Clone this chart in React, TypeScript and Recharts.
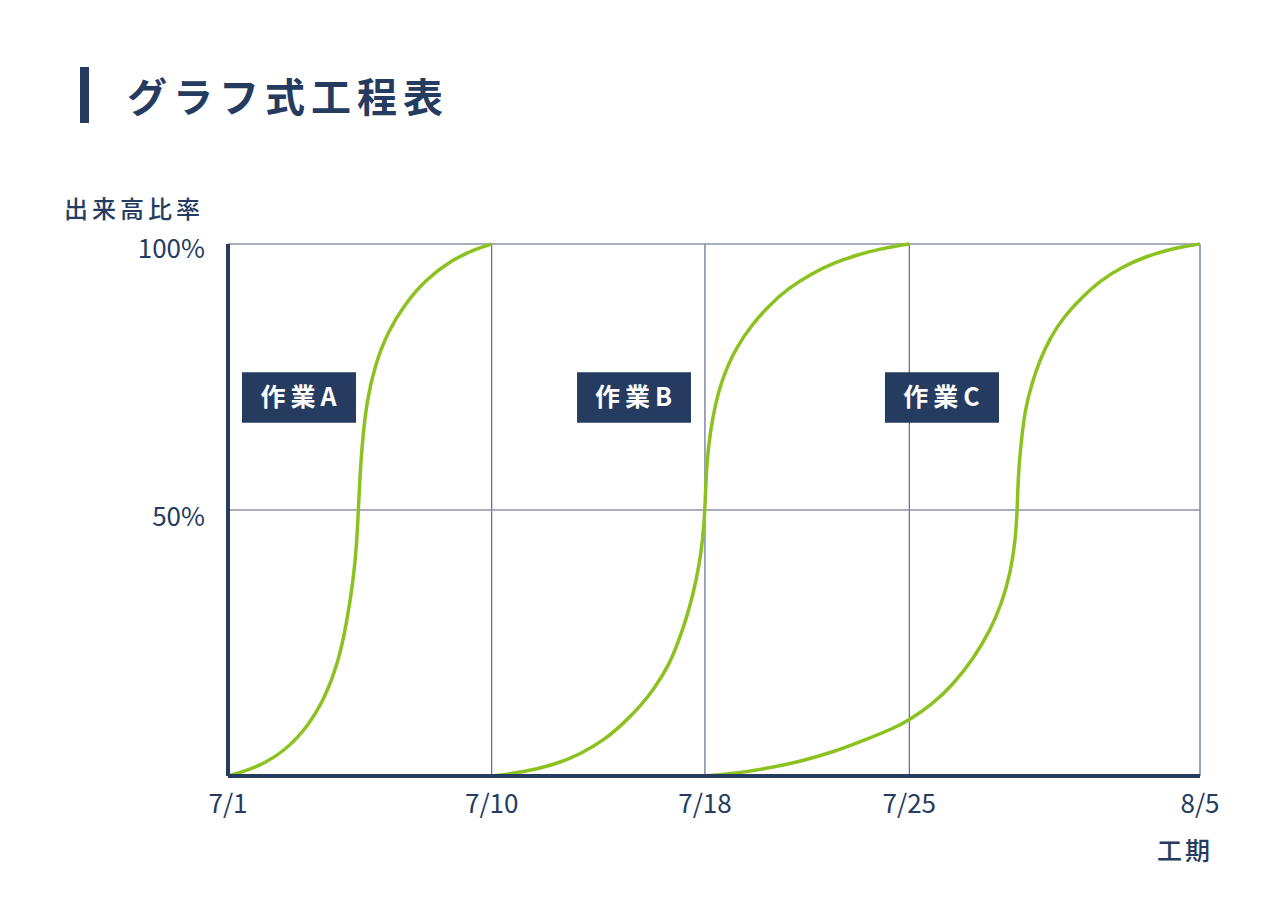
// @ts-nocheck
import { LineChart, Line, XAxis, YAxis, CartesianGrid, ReferenceArea } from 'recharts'

// timeline position (% of the construction period width) and progress (%)
const xTickPos = [0, 27.13, 49.07, 70.09, 100]
const xTickLabels = ['7/1', '7/10', '7/18', '7/25', '8/5']
const yTicks = [0, 50, 100]
const yTickLabels = ['', '50%', '100%']

const workAPos = [0, 3.12, 5.86, 8.26, 9.98, 11.35, 12.21, 12.89, 13.24, 13.41, 13.58, 13.82, 14.27, 15.12, 16.49, 18.21, 20.27, 23.01, 25.41, 27.13]
const workAPct = [0, 1.7, 4.7, 9.4, 14.7, 21.4, 28.7, 36.8, 43.4, 50, 56.5, 62.8, 70.4, 77.3, 83.7, 88.7, 93.2, 97, 99, 100]

const workBPos = [27.13, 30.18, 33.61, 36.35, 38.75, 40.81, 42.52, 43.9, 45.27, 46.3, 47.15, 47.84, 48.45, 48.85, 49.07, 49.17, 49.41, 49.86, 50.54, 51.41, 52.44, 53.81, 55.53, 57.58, 59.98, 62.38, 64.78, 67.18, 69.24, 70.09]
const workBPct = [0, 0.65, 2.1, 4.2, 6.8, 10.1, 13.3, 16.6, 20.5, 25, 29.6, 34.1, 39.3, 44.5, 50, 55.8, 61.9, 67.4, 72.9, 77.2, 80.9, 84.6, 88.2, 91.6, 94.4, 96.5, 98, 99.1, 99.8, 100]

const workCPos = [49.07, 52.0, 55.4, 58.8, 62.3, 65.7, 68.4, 70.09, 72.6, 74.6, 76.7, 78.4, 79.6, 80.5, 81.0, 81.2, 81.3, 81.6, 82.0, 82.7, 83.5, 84.6, 85.9, 87.7, 89.7, 92.1, 94.5, 96.9, 98.6, 100]
const workCPct = [0, 0.45, 1.4, 2.7, 4.5, 6.9, 8.9, 10.5, 13.7, 17.2, 22.1, 27.3, 32.4, 38.2, 44.1, 50, 56.7, 62.8, 68.9, 73.8, 78.1, 82.4, 86.1, 89.7, 93.1, 95.8, 97.7, 99, 99.6, 100]

const workNames = ['作業A', '作業B', '作業C']

const toRows = (xs: number[], ys: number[]) => xs.map((x, i) => ({ x, y: ys[i] }))
const series = [toRows(workAPos, workAPct), toRows(workBPos, workBPct), toRows(workCPos, workCPct)]

// label boxes, in chart units
const boxes = [
  { x1: 1.44, x2: 13.17 },
  { x1: 35.91, x2: 47.63 },
  { x1: 67.59, x2: 79.32 },
]

const NAVY = '#253b60'
const GREEN = '#8cc21f'
const FONT = '"Noto Sans CJK JP", "Noto Sans", sans-serif'

function XTick({ x, y, payload }) {
  const i = xTickPos.indexOf(payload.value)
  return (
    <text x={x} y={y + 28} dy="0.35em" textAnchor="middle" fill={NAVY} fontSize={26} fontFamily={FONT}>
      {xTickLabels[i]}
    </text>
  )
}

function YTick({ x, y, payload }) {
  const i = yTicks.indexOf(payload.value)
  if (!yTickLabels[i]) return null
  return (
    <text x={x - 23} y={y + (payload.value === 50 ? 7 : 5)} dy="0.35em" textAnchor="end" fill={NAVY} fontSize={26} fontFamily={FONT}>
      {yTickLabels[i]}
    </text>
  )
}

function BoxLabel(name: string) {
  return (props) => {
    const vb = props.viewBox
    return (
      <text x={vb.x + vb.width / 2 + 2} y={vb.y + vb.height / 2} dy="0.36em" textAnchor="middle" fill="#fff"
        fontSize={25} fontWeight={700} letterSpacing={5} fontFamily={FONT}>
        {name}
      </text>
    )
  }
}

export default function App() {
  return (
    <div style={{ position: 'absolute', left: 0, top: 0, width: 1280, height: 900, background: '#fff', fontFamily: FONT, color: NAVY }}>
      <div style={{ position: 'absolute', left: 80, top: 67, width: 9, height: 56, background: NAVY }} />
      <div style={{ position: 'absolute', left: 127, top: 74, fontSize: 40, lineHeight: '42px', fontWeight: 700, letterSpacing: 6 }}>
        グラフ式工程表
      </div>
      <div style={{ position: 'absolute', left: 64, top: 195, fontSize: 24, lineHeight: '26px', fontWeight: 500, letterSpacing: 4 }}>
        出来高比率
      </div>
      <div style={{ position: 'absolute', left: 1157, top: 836, fontSize: 25, lineHeight: '26px', fontWeight: 500, letterSpacing: 3 }}>
        工期
      </div>

      <LineChart width={1280} height={900} margin={{ top: 244, right: 80, bottom: 64, left: 148 }}>
        <CartesianGrid horizontal={false} stroke="#3f4d78" strokeWidth={1} />
        <CartesianGrid vertical={false} stroke="#8b90aa" strokeWidth={1.5} />
        <XAxis type="number" dataKey="x" domain={[0, 100]} ticks={xTickPos} height={60}
          axisLine={{ stroke: NAVY, strokeWidth: 4 }} tickLine={false} tickSize={0} tickMargin={0}
          tick={<XTick />} interval={0} allowDataOverflow />
        <YAxis type="number" domain={[0, 100]} ticks={yTicks} width={80}
          axisLine={{ stroke: NAVY, strokeWidth: 4 }} tickLine={false} tickSize={0} tickMargin={0}
          tick={<YTick />} interval={0} />
        {boxes.map((b, i) => (
          <ReferenceArea key={i} x1={b.x1} x2={b.x2} y1={66.4} y2={75.9} fill={NAVY} fillOpacity={1}
            stroke="none" label={BoxLabel(workNames[i])} />
        ))}
        {series.map((d, i) => (
          <Line key={i} data={d} dataKey="y" type="basis" stroke={GREEN} strokeWidth={3.5}
            dot={false} activeDot={false} isAnimationActive={false} name={workNames[i]} />
        ))}
      </LineChart>
    </div>
  )
}
